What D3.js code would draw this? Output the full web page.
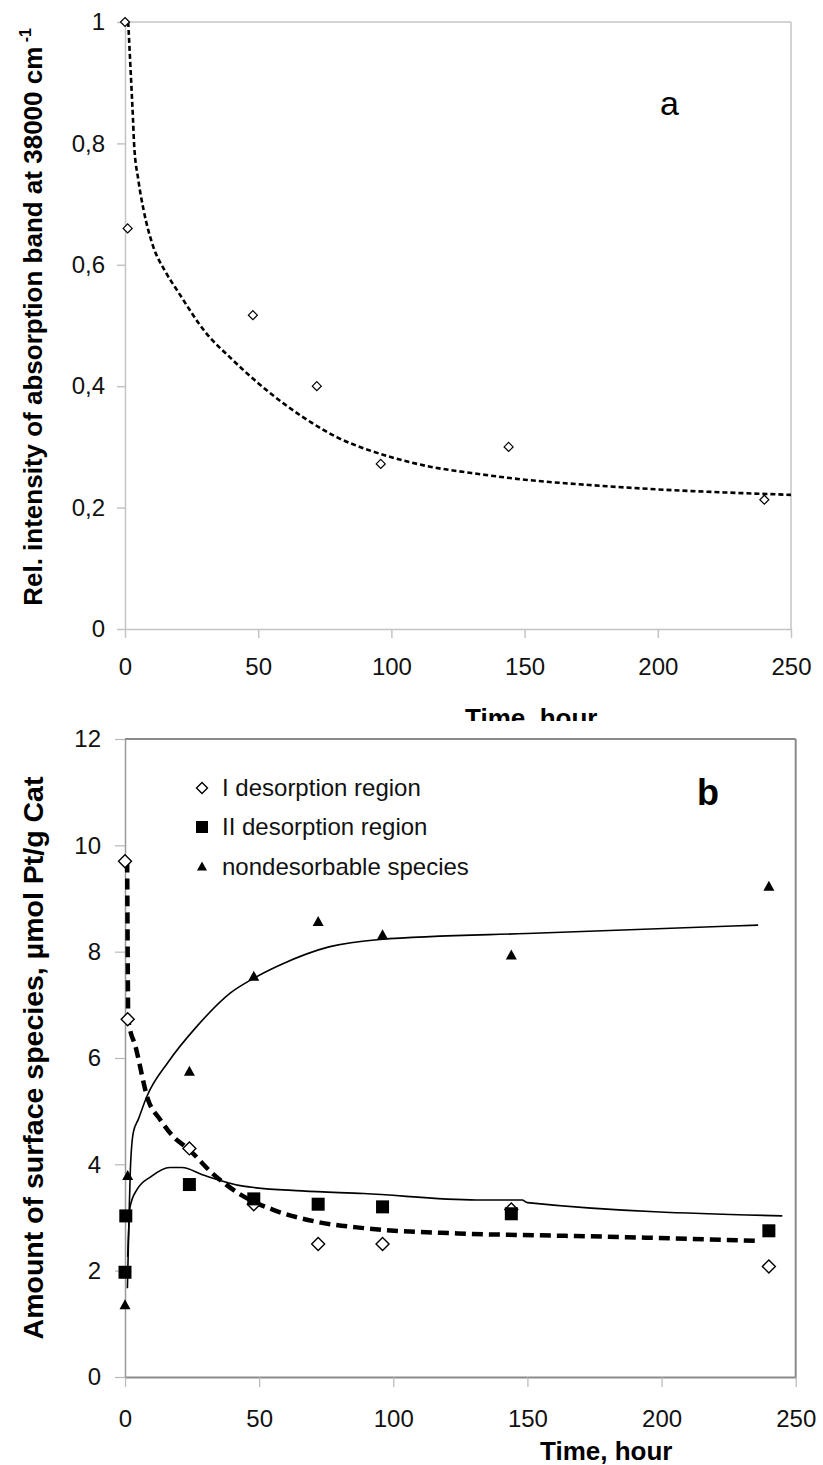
<!DOCTYPE html>
<html><head><meta charset="utf-8">
<script src="https://cdn.jsdelivr.net/npm/d3@7"></script>
<style>
body{margin:0;background:#fff;}
svg{display:block;font-family:"Liberation Sans",Arial,sans-serif;}
</style></head>
<body>
<svg id="chart" width="823" height="1465"></svg>
<script>
// ---------- Panel a data ----------
const aTime = [0, 1, 48, 72, 96, 144, 240];
const aIntensity = [1.0, 0.66, 0.517, 0.40, 0.272, 0.30, 0.213];
const aFitTime = [1.2, 2, 3, 3.4, 5, 7, 10.6, 15, 20, 30, 40, 50, 60, 70, 80, 90, 100, 115, 130, 150, 175, 200, 225, 250];
const aFitValue = [1.0, 0.93, 0.84, 0.80, 0.74, 0.69, 0.63, 0.59, 0.555, 0.49, 0.445, 0.405, 0.37, 0.34, 0.315, 0.297, 0.283, 0.267, 0.257, 0.246, 0.237, 0.23, 0.225, 0.221];
const aXTicks = [0, 50, 100, 150, 200, 250];
const aYTicks = [0, 0.2, 0.4, 0.6, 0.8, 1];

// ---------- Panel b data ----------
const bTimeI = [0, 1, 24, 48, 72, 96, 144, 240];
const bRegionI = [9.7, 6.73, 4.3, 3.25, 2.5, 2.5, 3.15, 2.08];
const bTimeII = [0, 0.3, 24, 48, 72, 96, 144, 240];
const bRegionII = [1.97, 3.03, 3.62, 3.35, 3.25, 3.2, 3.07, 2.75];
const bTimeN = [0, 1, 24, 48, 72, 96, 144, 240];
const bNondes = [1.35, 3.78, 5.74, 7.53, 8.56, 8.31, 7.93, 9.22];
const bFitITime = [0.8, 1.0, 1.2, 4, 8.7, 13, 18, 23.4, 32.6, 43.4, 55.5, 71.4, 89, 124, 160, 195, 235];
const bFitIValue = [9.7, 8.0, 6.73, 6.2, 5.2, 4.85, 4.52, 4.3, 3.83, 3.42, 3.14, 2.92, 2.8, 2.7, 2.66, 2.62, 2.56];
const bFitIITime = [1, 1.9, 4.4, 9.7, 16.7, 21.2, 29.1, 44, 66, 89, 131, 148, 150, 245];
const bFitIIValue = [2.26, 3.2, 3.52, 3.77, 3.94, 3.94, 3.8, 3.59, 3.5, 3.45, 3.33, 3.33, 3.28, 3.03];
const bFitNTime = [0.9, 1.5, 2, 3.1, 5, 8.1, 16.2, 26.7, 39.2, 48, 57.8, 76, 95, 155, 236];
const bFitNValue = [1.67, 3.0, 3.9, 4.6, 4.85, 5.27, 5.93, 6.59, 7.22, 7.5, 7.75, 8.09, 8.23, 8.35, 8.5];
const bXTicks = [0, 50, 100, 150, 200, 250];
const bYTicks = [0, 2, 4, 6, 8, 10, 12];
const bLegend = ["I desorption region", "II desorption region", "nondesorbable species"];

const svg = d3.select("#chart");
const comma = d => String(d).replace(".", ",");
const diamond = r => `M0,${-r}L${r},0L0,${r}L${-r},0Z`;
const tri = (w, h) => `M0,${-h*0.6}L${w/2},${h*0.4}L${-w/2},${h*0.4}Z`;

// ================= Panel a =================
const xA = d3.scaleLinear().domain([0, 250]).range([125, 791]);
const yA = d3.scaleLinear().domain([0, 1]).range([629, 22]);
const gA = svg.append("g");
const lightGray = "#c4c4c4";

gA.append("line").attr("x1", xA(0)).attr("x2", xA(250)).attr("y1", yA(1)).attr("y2", yA(1)).attr("stroke", lightGray).attr("stroke-width", 1.5);
gA.append("line").attr("x1", xA(250)).attr("x2", xA(250)).attr("y1", yA(1)).attr("y2", yA(0)).attr("stroke", lightGray).attr("stroke-width", 1.5);

const axA_x = gA.append("g").attr("transform", `translate(0,${yA(0)})`)
  .call(d3.axisBottom(xA).tickValues(aXTicks).tickSize(9).tickSizeOuter(0));
axA_x.select(".domain").attr("stroke", lightGray).attr("stroke-width", 1.5);
axA_x.selectAll(".tick line").attr("stroke", lightGray).attr("stroke-width", 1.5);
axA_x.selectAll("text").attr("y", 46).attr("dy", null).attr("font-size", 24).attr("fill", "#111").attr("font-family", "Liberation Sans, Arial, sans-serif");

const axA_y = gA.append("g").attr("transform", `translate(${xA(0)},0)`)
  .call(d3.axisLeft(yA).tickValues(aYTicks).tickFormat(comma).tickSize(8).tickPadding(12).tickSizeOuter(0));
axA_y.select(".domain").attr("stroke", lightGray).attr("stroke-width", 1.5);
axA_y.selectAll(".tick line").attr("stroke", lightGray).attr("stroke-width", 1.5);
axA_y.selectAll("text").attr("font-size", 24).attr("fill", "#111").attr("font-family", "Liberation Sans, Arial, sans-serif");

const lineA = d3.line().x(d => xA(d[0])).y(d => yA(d[1])).curve(d3.curveMonotoneX);
gA.append("path").datum(aFitTime.map((t, i) => [t, aFitValue[i]]))
  .attr("d", lineA).attr("fill", "none").attr("stroke", "#000").attr("stroke-width", 2.6).attr("stroke-dasharray", "5,3");

gA.selectAll(".pa").data(aTime.map((t, i) => [t, aIntensity[i]])).enter().append("path")
  .attr("transform", d => `translate(${xA(d[0])},${yA(d[1])})`)
  .attr("d", diamond(4.5)).attr("fill", "#fff").attr("stroke", "#000").attr("stroke-width", 1.2);

gA.append("text").attr("x", 660).attr("y", 115).attr("font-size", 34).text("a");

const tA = gA.append("text").attr("transform", "translate(42,28) rotate(-90)")
  .attr("text-anchor", "end").attr("font-weight", "bold").attr("font-size", 26);
tA.append("tspan").text("Rel. intensity of absorption band at 38000 cm");
tA.append("tspan").attr("dy", -11).attr("font-size", 16).text(" -1");

gA.append("text").attr("x", 465).attr("y", 727).attr("font-weight", "bold").attr("font-size", 26).text("Time, hour");

svg.append("rect").attr("x", 0).attr("y", 721).attr("width", 823).attr("height", 744).attr("fill", "#fff");

// ================= Panel b =================
const xB = d3.scaleLinear().domain([0, 250]).range([125, 795.7]);
const yB = d3.scaleLinear().domain([0, 12]).range([1377, 739]);
const gB = svg.append("g");
const darkGray = "#8a8a8a";

gB.append("line").attr("x1", xB(0)).attr("x2", xB(250)).attr("y1", yB(12)).attr("y2", yB(12)).attr("stroke", darkGray).attr("stroke-width", 2);
gB.append("line").attr("x1", xB(250)).attr("x2", xB(250)).attr("y1", yB(12)).attr("y2", yB(0)).attr("stroke", darkGray).attr("stroke-width", 2);

const axB_x = gB.append("g").attr("transform", `translate(0,${yB(0)})`)
  .call(d3.axisBottom(xB).tickValues(bXTicks).tickSize(10).tickSizeOuter(0));
axB_x.select(".domain").attr("stroke", darkGray).attr("stroke-width", 2);
axB_x.selectAll(".tick line").attr("stroke", "#b8b8b8").attr("stroke-width", 1.2);
axB_x.selectAll("text").attr("y", 50).attr("dy", null).attr("font-size", 24).attr("fill", "#111").attr("font-family", "Liberation Sans, Arial, sans-serif");

const axB_y = gB.append("g").attr("transform", `translate(${xB(0)},0)`)
  .call(d3.axisLeft(yB).tickValues(bYTicks).tickSize(10).tickPadding(14).tickSizeOuter(0));
axB_y.select(".domain").attr("stroke", "#9a9a9a").attr("stroke-width", 1.5);
axB_y.selectAll(".tick line").attr("stroke", "#b8b8b8").attr("stroke-width", 1.2);
axB_y.selectAll("text").attr("font-size", 24).attr("fill", "#111").attr("font-family", "Liberation Sans, Arial, sans-serif");

const lineB = d3.line().x(d => xB(d[0])).y(d => yB(d[1])).curve(d3.curveMonotoneX);
gB.append("path").datum(bFitNTime.map((t, i) => [t, bFitNValue[i]]))
  .attr("d", lineB).attr("fill", "none").attr("stroke", "#000").attr("stroke-width", 1.6);
gB.append("path").datum(bFitIITime.map((t, i) => [t, bFitIIValue[i]]))
  .attr("d", lineB).attr("fill", "none").attr("stroke", "#000").attr("stroke-width", 1.6);
gB.append("path").datum(bFitITime.map((t, i) => [t, bFitIValue[i]]))
  .attr("d", lineB).attr("fill", "none").attr("stroke", "#000").attr("stroke-width", 4.5).attr("stroke-dasharray", "11,6");

gB.selectAll(".pI").data(bTimeI.map((t, i) => [t, bRegionI[i]])).enter().append("path")
  .attr("transform", d => `translate(${xB(d[0])},${yB(d[1])})`)
  .attr("d", diamond(6.5)).attr("fill", "#fff").attr("stroke", "#000").attr("stroke-width", 1.4);
gB.selectAll(".pII").data(bTimeII.map((t, i) => [t, bRegionII[i]])).enter().append("rect")
  .attr("x", d => xB(d[0]) - 6.5).attr("y", d => yB(d[1]) - 6.5).attr("width", 13).attr("height", 13).attr("fill", "#000");
gB.selectAll(".pN").data(bTimeN.map((t, i) => [t, bNondes[i]])).enter().append("path")
  .attr("transform", d => `translate(${xB(d[0])},${yB(d[1])})`)
  .attr("d", tri(11, 10)).attr("fill", "#000");

const legY = [788, 827, 867];
const lg = gB.append("g");
lg.append("path").attr("transform", `translate(202,${legY[0]})`).attr("d", diamond(5.5)).attr("fill", "#fff").attr("stroke", "#000").attr("stroke-width", 1.4);
lg.append("rect").attr("x", 196).attr("y", legY[1] - 6).attr("width", 12).attr("height", 12).attr("fill", "#000");
lg.append("path").attr("transform", `translate(202,${legY[2]})`).attr("d", tri(10, 9)).attr("fill", "#000");
lg.selectAll("text").data(bLegend).enter().append("text")
  .attr("x", 222).attr("y", (d, i) => legY[i] + 8).attr("font-size", 24).attr("fill", "#111").text(d => d);

gB.append("text").attr("x", 697).attr("y", 805).attr("font-size", 36).attr("font-weight", "bold").text("b");

gB.append("text").attr("transform", "translate(43,1058) rotate(-90)")
  .attr("text-anchor", "middle").attr("font-weight", "bold").attr("font-size", 28.5)
  .text("Amount of surface species, µmol Pt/g Cat");

gB.append("text").attr("x", 540).attr("y", 1460).attr("font-weight", "bold").attr("font-size", 26).text("Time, hour");
</script>
</body></html>
